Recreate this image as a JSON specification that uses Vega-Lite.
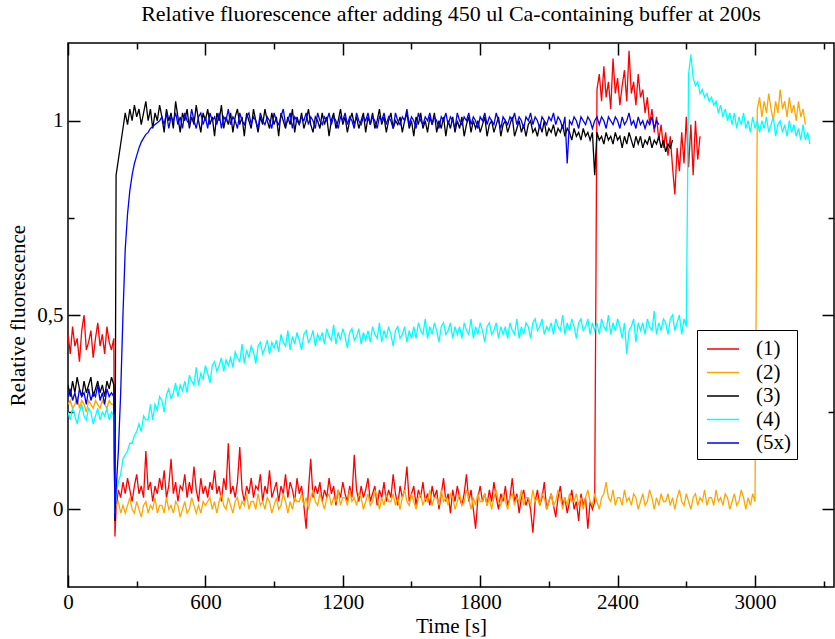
{
"$schema": "https://vega.github.io/schema/vega-lite/v6.json",
"width": 766, "height": 544,
"autosize": "none",
"padding": {"left": 68, "top": 43, "right": 1, "bottom": 52},
"background": "white",
"title": {"text": "Relative fluorescence after adding 450 ul Ca-containing buffer at 200s", "font": "Liberation Serif", "fontSize": 22, "fontWeight": "normal", "color": "black", "anchor": "middle", "offset": 16},
"config": {"view": {"stroke": "black", "strokeWidth": 1.5}, "font": "Liberation Serif"},
"data": {"values": "t,(1),(2),(3),(4),(5x)\n0,.45,.27,.32,.25,.29\n10,.40,.28,.29,.23,.31\n20,.47,.26,.33,.26,.28\n30,.42,.27,.30,.24,.30\n40,.44,.29,.34,.22,.27\n50,.38,.26,.31,.25,.31\n60,.46,.28,.29,.27,.29\n70,.50,.27,.33,.24,.30\n80,.41,.25,.30,.23,.27\n90,.43,.28,.32,.26,.31\n100,.46,.27,.34,.25,.28\n110,.39,.26,.29,.22,.30\n120,.44,.28,.31,.24,.29\n130,.48,.27,.33,.26,.32\n140,.42,.26,.30,.23,.28\n150,.45,.28,.32,.25,.30\n160,.40,.27,.29,.24,.27\n170,.47,.26,.33,.26,.31\n180,.43,.28,.31,.23,.29\n190,.41,.27,.34,.25,.30\n200,.44,.27,.32,.24,.29\n205,-.07,-.02,-.03,-.01,-.02\n210,0,.01,.86,.04,.05\n220,.05,.02,.90,.07,.15\n230,.03,-.01,.94,.09,.30\n240,.07,.01,.98,.13,.50\n250,.04,-.01,1.02,.14,.67\n260,.08,.01,.99,.15,.76\n270,.05,.03,1.03,.17,.82\n280,.02,0,1.00,.17,.86\n290,.06,-.01,1.04,.19,.89\n300,.09,.02,1.01,.20,.91\n310,.04,0,1.03,.22,.93\n320,.06,-.02,.99,.20,.945\n330,.03,.01,1.02,.24,.955\n340,.15,.02,1.05,.23,.965\n350,.05,-.01,1.00,.23,.97\n360,.07,.01,1.03,.27,.98\n370,.02,0,.98,.23,.985\n380,.06,.03,1.02,.27,.99\n390,.04,-.01,1.00,.255,.995\n400,.08,.01,1.04,.29,1.00\n410,.05,.01,1.01,.28,1.01\n420,.10,-.01,.97,.25,.99\n430,.03,.03,1.03,.295,1.02\n440,.06,0,1.00,.31,.98\n450,.13,.01,1.02,.285,1.01\n460,.04,-.01,.98,.30,1.00\n470,.07,.02,1.05,.325,1.02\n480,.02,.01,1.01,.29,.99\n490,.06,-.02,.97,.32,1.01\n500,.05,0,1.02,.305,.98\n510,.09,.02,1.00,.33,1.02\n520,.03,-.01,1.03,.30,1.00\n530,.07,0,.98,.345,.99\n540,.04,.03,1.01,.33,1.03\n550,.11,.01,.99,.32,1.00\n560,.05,-.01,1.04,.365,.98\n570,.02,.01,1.00,.32,1.01\n580,.08,-.01,.97,.35,1.02\n590,.04,.02,1.02,.335,.99\n600,.06,.01,1.00,.37,1.01\n610,.03,.02,1.03,.35,.98\n620,.07,.03,.99,.325,1.02\n630,.05,0,1.01,.37,1.00\n640,.10,.02,.96,.38,1.01\n650,.04,-.01,1.02,.355,.99\n660,.06,.02,1.00,.37,1.02\n670,.02,.04,1.04,.39,.98\n680,.08,.01,.98,.355,1.01\n690,.05,0,1.01,.385,1.00\n700,.17,.03,.99,.37,1.03\n710,.04,.01,1.02,.39,.99\n720,.06,-.01,.97,.365,1.01\n730,.03,.02,1.01,.405,1.00\n740,.07,.03,1.03,.39,.98\n750,.16,0,.99,.38,1.02\n760,.05,.02,1.01,.425,1.00\n770,.02,.01,.96,.375,.99\n780,.06,.04,1.02,.41,1.01\n790,.04,0,1.00,.39,1.02\n800,.08,.02,.98,.42,.99\n810,.03,.02,1.03,.405,1.01\n820,.06,0,1.00,.375,1.00\n830,.05,.04,.97,.42,.98\n840,.09,.01,1.01,.43,1.02\n850,.02,.02,.99,.40,1.00\n860,.06,0,1.03,.415,.99\n870,.04,.03,1.00,.435,1.01\n880,.10,.02,.98,.40,1.00\n890,.03,-.01,1.02,.43,.98\n900,.05,.01,.99,.415,1.02\n910,.07,.03,1.01,.435,1.00\n920,.02,0,.96,.405,.99\n930,.06,.01,1.02,.45,1.01\n940,.04,.04,1.00,.43,1.03\n950,.09,.02,.98,.42,.99\n960,.03,-.01,1.01,.46,1.00\n970,.07,.02,.99,.41,1.02\n980,.05,0,1.03,.445,.98\n990,.02,.03,.97,.425,1.01\n1000,.08,.02,1.01,.455,1.00\n1010,.04,.02,.99,.435,.99\n1020,.06,.04,1.02,.41,1.01\n1030,.01,.01,.98,.45,1.00\n1040,-.05,.03,1.00,.46,1.02\n1050,.05,0,1.03,.43,.99\n1060,.13,.03,.99,.44,1.01\n1070,.03,.05,.97,.46,1.00\n1080,.06,.02,1.01,.42,.98\n1090,.04,.01,1.00,.45,1.02\n1100,.07,.04,.98,.435,1.00\n1110,.02,.02,1.02,.455,.99\n1120,.05,0,.99,.425,1.01\n1130,.03,.03,1.01,.465,1.00\n1140,.08,.04,.96,.445,1.02\n1150,.04,.01,1.00,.435,.99\n1160,.06,.03,1.02,.475,1.01\n1170,.01,.02,.98,.425,1.00\n1180,.05,.05,1.00,.455,.98\n1190,.03,.01,1.03,.435,1.01\n1200,.07,.03,.99,.465,1.00\n1210,.04,.03,1.01,.445,1.02\n1220,.02,.01,.97,.415,.99\n1230,.06,.05,1.00,.455,1.01\n1240,.03,.02,1.02,.465,1.00\n1250,.14,.03,.99,.435,.98\n1260,.05,.01,1.01,.445,1.02\n1270,.02,.04,.98,.465,1.00\n1280,.06,.03,1.00,.425,.99\n1290,.03,0,1.02,.455,1.01\n1300,.05,.02,.97,.435,1.00\n1310,.08,.04,1.01,.46,1.02\n1320,.02,.01,.99,.43,.99\n1330,.04,.02,1.02,.47,1.01\n1340,.06,.05,.98,.45,1.00\n1350,.01,.03,1.00,.44,.98\n1360,.05,0,1.03,.48,1.01\n1370,.03,.03,.99,.43,1.00\n1380,.07,.01,1.01,.46,1.02\n1390,.02,.04,.97,.44,.99\n1400,.05,.02,1.00,.47,1.01\n1410,.03,.02,1.02,.45,1.00\n1420,.09,.04,.98,.42,.98\n1430,.04,.01,1.00,.46,1.02\n1440,.01,.03,.99,.47,1.00\n1450,.06,0,1.01,.44,.99\n1460,.03,.03,.97,.45,1.01\n1470,.05,.05,1.00,.47,1.00\n1480,.11,.02,1.02,.43,1.03\n1490,.02,.01,.98,.46,.99\n1500,.04,.04,1.00,.44,1.01\n1510,.06,.02,.96,.47,1.00\n1520,.01,0,1.01,.44,.98\n1530,.05,.03,.99,.48,1.02\n1540,.03,.04,1.02,.46,1.00\n1550,.07,.01,.98,.45,.99\n1560,.02,.03,1.00,.49,1.01\n1570,.04,.02,.97,.44,1.00\n1580,.01,.05,1.01,.47,1.02\n1590,.06,.01,.99,.45,.99\n1600,.03,.03,1.02,.48,1.01\n1610,.05,.03,.97,.46,1.00\n1620,0,.01,1.00,.43,.98\n1630,.04,.05,.98,.47,1.01\n1640,.08,.02,1.01,.48,1.00\n1650,.02,.03,.96,.45,1.02\n1660,.04,.01,1.00,.46,.99\n1670,-.01,.04,.98,.48,1.01\n1680,.05,.03,1.01,.44,1.00\n1690,.02,0,.97,.47,.98\n1700,.06,.02,1.00,.45,1.02\n1710,.03,.04,.98,.47,1.00\n1720,.01,.01,1.01,.44,.99\n1730,.04,.02,.96,.48,1.01\n1740,.09,.05,.99,.46,1.00\n1750,.02,.03,1.01,.45,1.02\n1760,.05,0,.97,.49,.99\n1770,0,.03,1.00,.44,1.01\n1780,-.05,.01,.98,.47,1.00\n1790,.03,.04,1.00,.45,.98\n1800,.06,.02,.97,.48,1.01\n1810,.02,.02,.99,.46,1.00\n1820,.04,.04,1.01,.43,1.02\n1830,.01,.01,.96,.47,.99\n1840,.05,.03,.99,.48,1.01\n1850,.02,0,1.00,.45,1.00\n1860,.07,.03,.97,.46,.99\n1870,.03,.05,.99,.48,1.02\n1880,0,.02,1.01,.44,1.00\n1890,.04,.01,.96,.47,.98\n1900,.02,.04,.99,.45,1.01\n1910,.06,.02,1.00,.47,1.00\n1920,.01,0,.97,.44,.99\n1930,.03,.03,.99,.48,1.01\n1940,.08,.04,1.01,.46,1.00\n1950,.02,.01,.96,.45,1.02\n1960,.04,.03,.98,.49,.99\n1970,-.01,.02,1.00,.44,1.01\n1980,.03,.05,.97,.47,1.00\n1990,.05,.01,.99,.45,.98\n2000,.01,.03,.96,.48,1.01\n2010,.03,.03,.99,.47,1.00\n2020,0,.01,1.00,.44,1.02\n2030,-.06,.05,.97,.48,.99\n2040,.02,.02,.98,.49,1.01\n2050,.05,.03,.96,.46,1.00\n2060,.01,.01,.99,.47,.98\n2070,.03,.04,.97,.49,1.01\n2080,.07,.03,1.00,.45,1.00\n2090,0,0,.96,.47,.99\n2100,.02,.02,.98,.46,1.01\n2110,.04,.04,.97,.48,1.00\n2120,.01,.01,.99,.45,1.02\n2130,-.02,.02,.96,.49,.99\n2140,.03,.05,.98,.47,1.01\n2150,.06,.03,.97,.46,1.00\n2160,.01,0,.99,.50,.98\n2170,.03,.03,.96,.45,1.01\n2180,-.01,.01,.98,.48,.89\n2190,.02,.04,.97,.46,1.00\n2200,.05,.02,.95,.49,.99\n2210,0,.02,.98,.47,1.01\n2220,.02,.04,.96,.44,1.00\n2230,-.03,.01,.97,.48,.98\n2240,.04,.03,.95,.49,1.01\n2250,.01,0,.98,.46,1.00\n2260,.03,.03,.96,.47,.99\n2270,-.05,.05,.97,.49,1.01\n2280,.02,.02,.95,.45,1.00\n2290,0,.01,.97,.48,.98\n2300,.02,.04,.86,.46,1.00\n2310,1.08,.02,.97,.48,1.01\n2320,1.12,0,.95,.45,.99\n2330,1.05,.03,.96,.49,1.01\n2340,1.14,.04,.94,.47,1.00\n2350,1.06,.07,.97,.46,.98\n2360,1.10,.03,.95,.50,1.01\n2370,1.03,.02,.96,.45,1.00\n2380,1.16,.05,.94,.48,.99\n2390,1.07,.01,.97,.46,1.01\n2400,1.11,.03,.95,.49,1.00\n2410,1.04,.03,.96,.47,.98\n2420,1.09,.01,.93,.44,1.01\n2430,1.13,.05,.96,.48,.99\n2440,1.05,.02,.94,.40,1.00\n2450,1.18,.03,.97,.46,1.02\n2460,1.07,.01,.95,.47,.99\n2470,1.10,.04,.93,.49,1.00\n2480,1.04,.03,.96,.43,.98\n2490,1.12,0,.94,.48,1.01\n2500,1.06,.02,.96,.46,.99\n2510,1.08,.04,.93,.48,1.00\n2520,1.02,.01,.95,.45,.98\n2530,1.06,.02,.94,.49,1.00\n2540,.99,.05,.96,.47,.99\n2550,1.03,.03,.93,.46,1.01\n2560,.97,0,.95,.51,.98\n2570,1.01,.03,.94,.45,1.00\n2580,.95,.01,.96,.48,.99\n2590,.99,.04,.93,.46,\n2600,.93,.02,.95,.49,\n2610,.97,.02,.92,.48,\n2620,.91,.04,.94,.45,\n2630,.96,.01,.93,.49,\n2640,.88,.03,.95,.50,\n2650,.81,0,,.46,\n2660,.93,.03,,.48,\n2670,.87,.05,,.50,\n2680,.97,.02,,.45,\n2690,.89,.01,,.49,\n2700,1.01,.04,,.47,\n2710,.88,.02,,1.12,\n2720,.99,0,,1.17,\n2730,.86,.03,,1.11,\n2740,1.00,.04,,1.09,\n2750,.90,.01,,1.10,\n2760,.96,.03,,1.07,\n2770,,.02,,1.08,\n2780,,.05,,1.06,\n2790,,.01,,1.07,\n2800,,.03,,1.05,\n2810,,.03,,1.06,\n2820,,.01,,1.04,\n2830,,.05,,1.05,\n2840,,.02,,1.02,\n2850,,.03,,1.04,\n2860,,.01,,1.01,\n2870,,.04,,1.03,\n2880,,.03,,1.00,\n2890,,0,,1.02,\n2900,,.02,,.99,\n2910,,.04,,1.02,\n2920,,.01,,.98,\n2930,,.02,,1.01,\n2940,,.05,,.99,\n2950,,.03,,1.02,\n2960,,0,,.98,\n2970,,.03,,1.00,\n2980,,.01,,.97,\n2990,,.04,,1.01,\n3000,,.02,,.98,\n3010,,1.03,,1.00,\n3020,,1.06,,.97,\n3030,,1.01,,1.00,\n3040,,1.05,,.98,\n3050,,1.02,,1.01,\n3060,,1.07,,.97,\n3070,,1.03,,.99,\n3080,,1.00,,1.01,\n3090,,1.05,,.96,\n3100,,1.02,,.99,\n3110,,1.08,,1.00,\n3120,,1.03,,.97,\n3130,,1.05,,.99,\n3140,,1.01,,.96,\n3150,,1.06,,1.00,\n3160,,1.02,,.97,\n3170,,1.04,,.99,\n3180,,1.00,,.96,\n3190,,1.05,,.98,\n3200,,1.01,,.95,\n3210,,1.03,,.99,\n3220,,.99,,.95,\n3230,,,,.97,\n3240,,,,.94,", "format": {"type": "csv", "parse": {"t": "number", "(1)": "number", "(2)": "number", "(3)": "number", "(4)": "number", "(5x)": "number"}}},
"layer": [
{
"transform": [{"fold": ["(1)", "(2)", "(3)", "(4)", "(5x)"], "as": ["s", "v"]}, {"filter": "isValid(datum.v)"}],
"mark": {"type": "line", "strokeWidth": 1.3, "clip": true},
"encoding": {
"x": {"field": "t", "type": "quantitative", "scale": {"domain": [0, 3345], "nice": false, "zero": false},
"axis": {"orient": "bottom", "values": [0,300,600,900,1200,1500,1800,2100,2400,2700,3000,3300], "labelExpr": "datum.value % 600 === 0 ? format(datum.value, 'd') : ''", "tickSize": {"condition": {"test": "datum.value % 600 === 0", "value": -12}, "value": -6}, "tickColor": "black", "tickWidth": 1.5, "domain": false, "grid": false, "labelFont": "Liberation Serif", "labelFontSize": 21, "labelColor": "black", "labelPadding": 16, "labelFlush": false, "labelOverlap": false, "title": "Time [s]", "titleFont": "Liberation Serif", "titleFontSize": 21, "titleFontWeight": "normal", "titleColor": "black", "titlePadding": -3}},
"y": {"field": "v", "type": "quantitative", "scale": {"domain": [-0.2, 1.2], "nice": false, "zero": false},
"axis": {"orient": "left", "values": [0, 0.25, 0.5, 0.75, 1], "labelExpr": "datum.value === 0 ? '0' : datum.value === 0.5 ? '0,5' : datum.value === 1 ? '1' : ''", "tickSize": {"condition": {"test": "datum.value * 2 === round(datum.value * 2)", "value": -12}, "value": -6}, "tickColor": "black", "tickWidth": 1.5, "domain": false, "grid": false, "labelFont": "Liberation Serif", "labelFontSize": 21, "labelColor": "black", "labelPadding": 17, "labelFlush": false, "labelOverlap": false, "title": "Relative fluorescence", "titleFont": "Liberation Serif", "titleFontSize": 21, "titleFontWeight": "normal", "titleColor": "black", "titlePadding": 8}},
"color": {"field": "s", "type": "nominal", "scale": {"domain": ["(1)", "(2)", "(3)", "(4)", "(5x)"], "range": ["#ff0000", "#ffa500", "#000000", "#00ffff", "#0000ff"]},
"legend": {"orient": "none", "legendX": 629, "legendY": 287, "title": null, "fillColor": "white", "strokeColor": "black", "padding": 6, "cornerRadius": 0, "symbolType": "M-0.75,0H1.92", "symbolSize": 576, "symbolStrokeWidth": 1.5, "symbolOpacity": 1, "labelFont": "Liberation Serif", "labelFontSize": 21, "labelColor": "black", "labelOffset": 27, "rowPadding": 0.5}}
}
},
{
"data": {"values": [{"t": 0, "v": 0}]},
"mark": {"type": "point", "opacity": 0},
"encoding": {
"x": {"field": "t", "type": "quantitative", "scale": {"domain": [0, 3345], "nice": false, "zero": false},
"axis": {"orient": "top", "values": [0,300,600,900,1200,1500,1800,2100,2400,2700,3000,3300], "labels": false, "title": null, "tickSize": {"condition": {"test": "datum.value % 600 === 0", "value": -12}, "value": -6}, "tickColor": "black", "tickWidth": 1.5, "domain": false, "grid": false}},
"y": {"field": "v", "type": "quantitative", "scale": {"domain": [-0.2, 1.2], "nice": false, "zero": false},
"axis": {"orient": "right", "values": [0, 0.25, 0.5, 0.75, 1], "labels": false, "title": null, "tickSize": {"condition": {"test": "datum.value * 2 === round(datum.value * 2)", "value": -12}, "value": -6}, "tickColor": "black", "tickWidth": 1.5, "domain": false, "grid": false}}
}
}
],
"resolve": {"axis": {"x": "independent", "y": "independent"}}
}
